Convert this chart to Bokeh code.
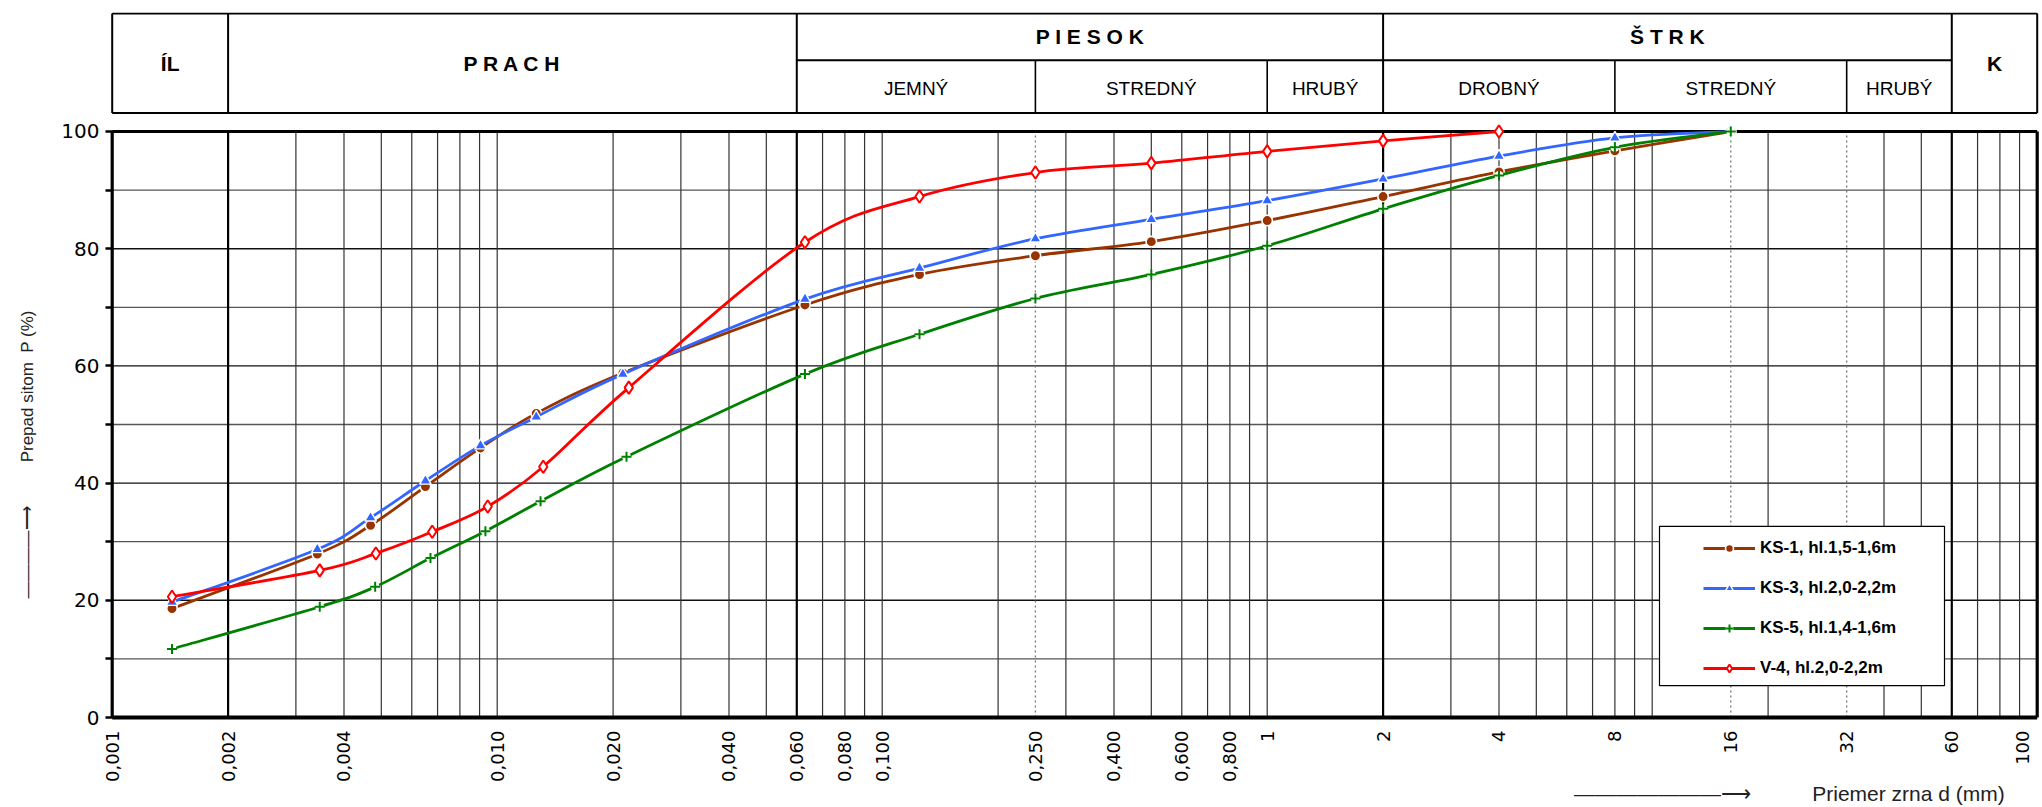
import numpy as np
from math import pi
from bokeh.plotting import figure
from bokeh.models import (Range1d, FixedTicker, Legend, LegendItem, ColumnDataSource,
                          LinearAxis, LogAxis)
from bokeh.core.properties import value
from bokeh.embed import file_html
from bokeh.resources import INLINE

# ---------------- data ----------------
series_names = ["KS-1, hl.1,5-1,6m", "KS-3, hl.2,0-2,2m", "KS-5, hl.1,4-1,6m", "V-4, hl.2,0-2,2m"]

d_ks1 = [0.00143, 0.00341, 0.00469, 0.00651, 0.00905, 0.01263, 0.0212, 0.063, 0.125, 0.25, 0.5, 1, 2, 4, 8, 16]
p_ks1 = [18.6, 27.9, 32.8, 39.4, 46.0, 51.9, 58.8, 70.4, 75.6, 78.8, 81.2, 84.8, 88.9, 93.1, 96.7, 100]

d_ks3 = [0.00143, 0.00341, 0.00469, 0.00651, 0.00905, 0.01263, 0.0212, 0.063, 0.125, 0.25, 0.5, 1, 2, 4, 8, 16]
p_ks3 = [19.7, 28.7, 34.1, 40.4, 46.4, 51.3, 58.6, 71.4, 76.7, 81.7, 85.0, 88.2, 91.9, 95.8, 98.9, 100]

d_ks5 = [0.00143, 0.00346, 0.00482, 0.00671, 0.00932, 0.01296, 0.02167, 0.063, 0.125, 0.25, 0.5, 1, 2, 4, 8, 16]
p_ks5 = [11.7, 18.9, 22.3, 27.2, 31.8, 36.9, 44.5, 58.6, 65.4, 71.5, 75.6, 80.5, 86.8, 92.5, 97.3, 100]

d_v4 = [0.00143, 0.00346, 0.00484, 0.00678, 0.00945, 0.01317, 0.02197, 0.063, 0.125, 0.25, 0.5, 1, 2, 4]
p_v4 = [20.6, 25.1, 28.0, 31.7, 36.0, 42.8, 56.3, 81.1, 88.9, 93.0, 94.6, 96.6, 98.4, 100]

x_ticks = [0.001, 0.002, 0.004, 0.01, 0.02, 0.04, 0.06, 0.08, 0.1, 0.25, 0.4, 0.6, 0.8,
           1, 2, 4, 8, 16, 32, 60, 100]
x_tick_labels = ["0,001", "0,002", "0,004", "0,010", "0,020", "0,040", "0,060", "0,080", "0,100",
                 "0,250", "0,400", "0,600", "0,800", "1", "2", "4", "8", "16", "32", "60", "100"]
y_ticks = [0, 20, 40, 60, 80, 100]
y_minor_ticks = [10, 30, 50, 70, 90]

y_title = "Prepad sitom\u00a0 P (%)"
x_title = "Priemer zrna d (mm)"

grid_thin = [0.003, 0.004, 0.005, 0.006, 0.007, 0.008, 0.009, 0.01, 0.02, 0.03, 0.04, 0.05,
             0.07, 0.08, 0.09, 0.1, 0.2, 0.3, 0.4, 0.5, 0.6, 0.7, 0.8, 0.9, 1,
             3, 4, 5, 6, 7, 8, 9, 10, 20, 40, 50, 70, 80, 90]
grid_thick = [0.002, 0.06, 2, 60]
grid_dotted = [0.25, 16, 32]
grid_h_dark = [20, 40, 60, 80]
grid_h_light = [10, 30, 50, 70, 90]

frac_main = ["ÍL", "P R A C H", "K"]
frac_main_bounds = [(0.001, 0.002), (0.002, 0.06), (60, 100)]
frac_group = ["P I E S O K", "Š T R K"]
frac_group_bounds = [(0.06, 2), (2, 60)]
frac_sub = ["JEMNÝ", "STREDNÝ", "HRUBÝ", "DROBNÝ", "STREDNÝ", "HRUBÝ"]
frac_sub_bounds = [(0.06, 0.25), (0.25, 1), (1, 2), (2, 8), (8, 32), (32, 60)]

colors = ["#993300", "#3366FF", "#008000", "#FF0000"]

# ---------------- geometry helpers (page pixels) ----------------
X0, DEC = 111.7, 385.0     # page px of 0.001 mm and px per decade
Y0, PPU = 720.0, 5.885     # page px of 0 % and px per percent
FRAME_L, FRAME_R, FRAME_T, FRAME_B = 108, 2040, 12, 724
W, H = 2042, 807


def xr(px):
    return 10 ** ((px - X0) / DEC - 3)


def yr(py):
    return (Y0 - py) / PPU


p = figure(width=W, height=H, x_axis_type="log",
           x_range=Range1d(xr(FRAME_L), xr(FRAME_R)),
           y_range=Range1d(yr(FRAME_B), yr(FRAME_T)),
           output_backend="svg", toolbar_location=None,
           min_border_left=FRAME_L, min_border_right=W - FRAME_R,
           min_border_top=FRAME_T, min_border_bottom=H - FRAME_B)
p.outline_line_color = None
p.xgrid.visible = False
p.ygrid.visible = False
p.background_fill_color = "white"
p.border_fill_color = "white"

# ---------------- axes ----------------
# last label is drawn a little inside the right edge, as in the reference
x_label_pos = x_ticks[:-1] + [xr(2022)]
xa = p.xaxis[0]
xa.ticker = FixedTicker(ticks=x_label_pos, minor_ticks=[])
xa.major_label_overrides = dict(zip(x_label_pos, x_tick_labels))
xa.major_label_orientation = pi / 2
xa.axis_line_color = None
xa.major_tick_line_color = None
xa.minor_tick_line_color = None
xa.major_tick_out = 0
xa.major_tick_in = 0
xa.major_label_standoff = 9
xa.major_label_text_font = "DejaVu Sans"
xa.major_label_text_font_size = "18px"
xa.major_label_text_color = "black"

ya = p.yaxis[0]
ya.ticker = FixedTicker(ticks=y_ticks, minor_ticks=y_minor_ticks)
ya.axis_line_color = None
ya.major_tick_in = 4
ya.major_tick_out = 3
ya.minor_tick_in = 4
ya.minor_tick_out = 3
ya.major_tick_line_width = 2.5
ya.minor_tick_line_width = 2.5
ya.major_tick_line_color = "black"
ya.minor_tick_line_color = "black"
ya.major_label_standoff = 6
ya.major_label_text_font = "DejaVu Sans"
ya.major_label_text_font_size = "20px"
ya.major_label_text_color = "black"

# axis titles with their arrows, set as labels of extra axes (outside the frame);
# rotated labels end at their tick, so the ticks sit at the top end of each text
y_title_pos = yr(311)
y_arrow_pos = yr(508)
ya2 = LinearAxis(ticker=FixedTicker(ticks=[y_title_pos, y_arrow_pos], minor_ticks=[]),
                 major_label_overrides={y_title_pos: y_title, y_arrow_pos: "\u2014" * 4 + "\u27f6"},
                 major_label_orientation=pi / 2, axis_line_color=None,
                 major_tick_line_color=None, minor_tick_line_color=None,
                 major_tick_in=0, major_tick_out=0, major_label_standoff=31,
                 major_label_text_font="Liberation Sans", major_label_text_font_size="17px",
                 major_label_text_color="#222222")
p.add_layout(ya2, "left")

x_arrow_pos = xr(1662)
x_title_pos = xr(1908)
xa2 = LogAxis(ticker=FixedTicker(ticks=[x_arrow_pos, x_title_pos], minor_ticks=[]),
              major_label_overrides={x_arrow_pos: "\u2014" * 7 + "\u27f6", x_title_pos: x_title},
              major_label_orientation="horizontal", axis_line_color=None,
              major_tick_line_color=None, minor_tick_line_color=None,
              major_tick_in=0, major_tick_out=0, major_label_standoff=-4,
              major_label_text_font="Liberation Sans", major_label_text_font_size="21px",
              major_label_text_color="#222222")
p.add_layout(xa2, "below")

# ---------------- grid ----------------
p.segment(x0=[0.001] * len(grid_h_light), y0=grid_h_light, x1=[100] * len(grid_h_light), y1=grid_h_light,
          line_color="#555555", line_width=1.3)
p.segment(x0=[0.001] * len(grid_h_dark), y0=grid_h_dark, x1=[100] * len(grid_h_dark), y1=grid_h_dark,
          line_color="#111111", line_width=1.4)
p.segment(x0=grid_thin, y0=[0] * len(grid_thin), x1=grid_thin, y1=[100] * len(grid_thin),
          line_color="#333333", line_width=1.2)
p.segment(x0=grid_dotted, y0=[0] * len(grid_dotted), x1=grid_dotted, y1=[100] * len(grid_dotted),
          line_color="#777777", line_width=1.3, line_dash="2 3")
p.segment(x0=grid_thick, y0=[0] * len(grid_thick), x1=grid_thick, y1=[100] * len(grid_thick),
          line_color="black", line_width=2.2)

# plot box
p.segment(x0=[0.001, 100, 0.001, 0.001], y0=[0, 0, 100, 0], x1=[0.001, 100, 100, 100], y1=[100, 100, 100, 0],
          line_color="black", line_width=[3.2, 3.2, 3.2, 4.2])

# ---------------- header table ----------------
h_top, h_mid, h_bot = yr(13), yr(60), yr(113)
p.segment(x0=[0.001, 0.001, 0.06], y0=[h_top, h_bot, h_mid], x1=[100, 100, 60], y1=[h_top, h_bot, h_mid],
          line_color="black", line_width=2)
hv = [0.001, 0.002, 0.06, 2, 60, 100]
p.segment(x0=hv, y0=[h_bot] * len(hv), x1=hv, y1=[h_top] * len(hv), line_color="black", line_width=2)
sv = [0.25, 1, 8, 32]
p.segment(x0=sv, y0=[h_bot] * len(sv), x1=sv, y1=[h_mid] * len(sv), line_color="black", line_width=1.6)


def gmid(b):
    return 10 ** ((np.log10(b[0]) + np.log10(b[1])) / 2)


p.text(x=[gmid(b) for b in frac_main_bounds], y=[(h_top + h_bot) / 2] * len(frac_main), text=frac_main,
       text_font=value("Liberation Sans"), text_font_size=value("21px"), text_font_style="bold",
       text_align="center", text_baseline="middle", text_color="black")
p.text(x=[gmid(b) for b in frac_group_bounds], y=[(h_top + h_mid) / 2] * len(frac_group), text=frac_group,
       text_font=value("Liberation Sans"), text_font_size=value("21px"), text_font_style="bold",
       text_align="center", text_baseline="middle", text_color="black")
p.text(x=[gmid(b) for b in frac_sub_bounds], y=[(h_mid + h_bot) / 2 - 0.3] * len(frac_sub), text=frac_sub,
       text_font=value("Liberation Sans"), text_font_size=value("19px"),
       text_align="center", text_baseline="middle", text_color="black")

# ---------------- legend box ----------------
p.quad(left=[xr(1659)], right=[xr(1944)], bottom=[yr(688)], top=[yr(528)],
       fill_color="white", line_color="black", line_width=1.2)


# ---------------- series ----------------
def smooth_source(xs, ys):
    lx = np.log10(np.asarray(xs, dtype=float))
    yy = np.asarray(ys, dtype=float)
    n = len(lx)
    i = np.arange(n - 1)
    im1 = np.maximum(i - 1, 0)
    ip2 = np.minimum(i + 2, n - 1)
    c0x = lx[i] + (lx[i + 1] - lx[im1]) / 6
    c0y = yy[i] + (yy[i + 1] - yy[im1]) / 6
    c1x = lx[i + 1] - (lx[ip2] - lx[i]) / 6
    c1y = yy[i + 1] - (yy[ip2] - yy[i]) / 6
    return ColumnDataSource(dict(x0=10 ** lx[:-1], y0=yy[:-1], x1=10 ** lx[1:], y1=yy[1:],
                                 cx0=10 ** c0x, cy0=c0y, cx1=10 ** c1x, cy1=c1y))


items = []
all_series = [(d_ks1, p_ks1), (d_ks3, p_ks3), (d_ks5, p_ks5), (d_v4, p_v4)]
for k, (xs, ys) in enumerate(all_series):
    col = colors[k]
    bez = p.bezier(x0="x0", y0="y0", x1="x1", y1="y1", cx0="cx0", cy0="cy0", cx1="cx1", cy1="cy1",
                   source=smooth_source(xs, ys), line_color=col, line_width=2.8)
    rs = [bez]
    if k == 0:
        rs.append(p.scatter(xs, ys, marker="circle", size=10.5, fill_color=col, line_color="white", line_width=1.6))
    elif k == 1:
        rs.append(p.scatter(xs, ys, marker="triangle", size=11.5, fill_color=col, line_color="white", line_width=1.4))
    elif k == 2:
        rs.append(p.scatter(xs, ys, marker="circle", size=9, fill_color="white", line_color=None))
        rs.append(p.scatter(xs, ys, marker="cross", size=10, line_color=col, line_width=2))
    else:
        rs.append(p.scatter(xs, ys, marker="diamond", size=12.5, fill_color="white", line_color=col, line_width=2))
    items.append(LegendItem(label=series_names[k], renderers=rs))

legend = Legend(items=items, location=(1703 - FRAME_L, FRAME_B - 681),
                padding=0, margin=0, spacing=20, glyph_width=52, glyph_height=20, label_height=20,
                label_standoff=5, label_text_font="Liberation Sans", label_text_font_size="17px",
                label_text_font_style="bold", label_text_color="black",
                border_line_alpha=0, background_fill_alpha=0)
p.add_layout(legend)

with open("out.html", "w", encoding="utf-8") as f:
    f.write(file_html(p, INLINE, "Zrnitost"))
